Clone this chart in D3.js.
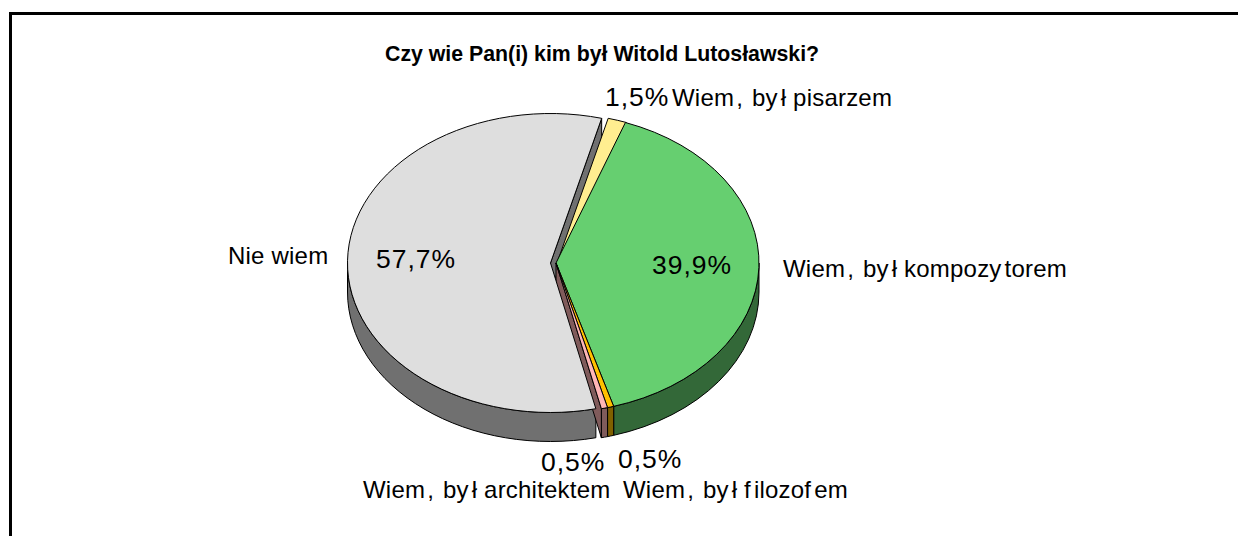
<!DOCTYPE html>
<html><head><meta charset="utf-8">
<script src="https://cdn.jsdelivr.net/npm/d3@7"></script>
<style>html,body{margin:0;padding:0;background:#fff}svg{display:block}text{font-family:"Liberation Sans",Arial,sans-serif;fill:#000}</style>
</head><body><div id="c"></div>
<script>
const categories=["Wiem, był pisarzem","Wiem, był kompozytorem","Wiem, był filozofem","Wiem, był architektem","Nie wiem"];
const values=[1.5,39.9,0.5,0.5,57.7];
const labels=["1,5%","39,9%","0,5%","0,5%","57,7%"];
const topColors=["#ffee90","#66cf70","#ffc000","#ffb6b6","#dedede"];
const wallColors=["#807748","#336838","#806000","#805b5b","#707070"];
const W=1238,H=536,rx=203,ry=149.5,depth=29,cx=556,cy=263;
const svg=d3.select("#c").append("svg").attr("width",W).attr("height",H);
svg.append("path").attr("d",`M10.5 ${H}V13.5H${W}`).attr("fill","none").attr("stroke","#000").attr("stroke-width",3);
const pie=d3.pie().sort(null).value(d=>d).startAngle(14.6*Math.PI/180).endAngle((14.6+360)*Math.PI/180);
const arcs=pie(values);
const offs=[[1,0],[0,0],[0,0],[0,0],[-5.5,0]];
const pt=(i,a,dy=0)=>[cx+offs[i][0]+rx*Math.sin(a),cy+offs[i][1]+dy-ry*Math.cos(a)];
const ctr=(i,dy=0)=>[cx+offs[i][0],cy+offs[i][1]+dy];
const g=svg.append("g").attr("stroke","#000").attr("stroke-width",1).attr("stroke-linejoin","round");
function rim(i,a0,a1){const s=pt(i,a0),e=pt(i,a1),e2=pt(i,a1,depth),s2=pt(i,a0,depth);
 return `M${s}A${rx} ${ry} 0 0 1 ${e}L${e2}A${rx} ${ry} 0 0 0 ${s2}Z`;}
function cut(i,a){return `M${ctr(i)}L${pt(i,a)}L${pt(i,a,depth)}L${ctr(i,depth)}Z`;}
g.append("path").attr("d",cut(4,arcs[4].endAngle)).attr("fill",wallColors[4]);
g.append("path").attr("d",rim(4,arcs[4].startAngle,Math.PI*1.5)).attr("fill",wallColors[4]);
arcs.slice(0,4).forEach((d,i)=>{
  if(d.endAngle>Math.PI/2){
    g.append("path").attr("d",rim(i,Math.max(d.startAngle,Math.PI/2),d.endAngle)).attr("fill",wallColors[i]);
  }
});
g.append("path").attr("d",cut(3,arcs[3].endAngle)).attr("fill",wallColors[3]);
const arc=d3.arc().innerRadius(0).outerRadius(rx);
arcs.forEach((d,i)=>{
  g.append("path").attr("d",arc(d))
   .attr("transform",`translate(${ctr(i)}) scale(1,${ry/rx})`)
   .attr("vector-effect","non-scaling-stroke").attr("fill",topColors[i]);
});
const T=svg.append("g");
const text=(s,x,y,size,w)=>T.append("text").attr("x",x).attr("y",y).attr("font-size",size).attr("font-weight",w||"normal").text(s);
text("Czy wie Pan(i) kim był Witold Lutosławski?",385,61,21.3,"bold");
const catPos=[[672,106],[783,277],[623,498],[363,498],[228,264]];
const pctPos=[[605,106],[652,274],[618,468],[541,471],[376,268]];
const gap=s=>Array.from(s).map((c,k,a)=>{const p=a[k-1];
  return k==0?0:0.2+(c==","?2:0)+(p==","?2:0)+(p=="y"||p=="f"?3:0);}).join(" ");
arcs.forEach((d,i)=>{
  text(categories[i],catPos[i][0],catPos[i][1],24).attr("dx",gap(categories[i]));
  text(labels[i],pctPos[i][0],pctPos[i][1],26.5).attr("letter-spacing",1);
});
</script></body></html>
